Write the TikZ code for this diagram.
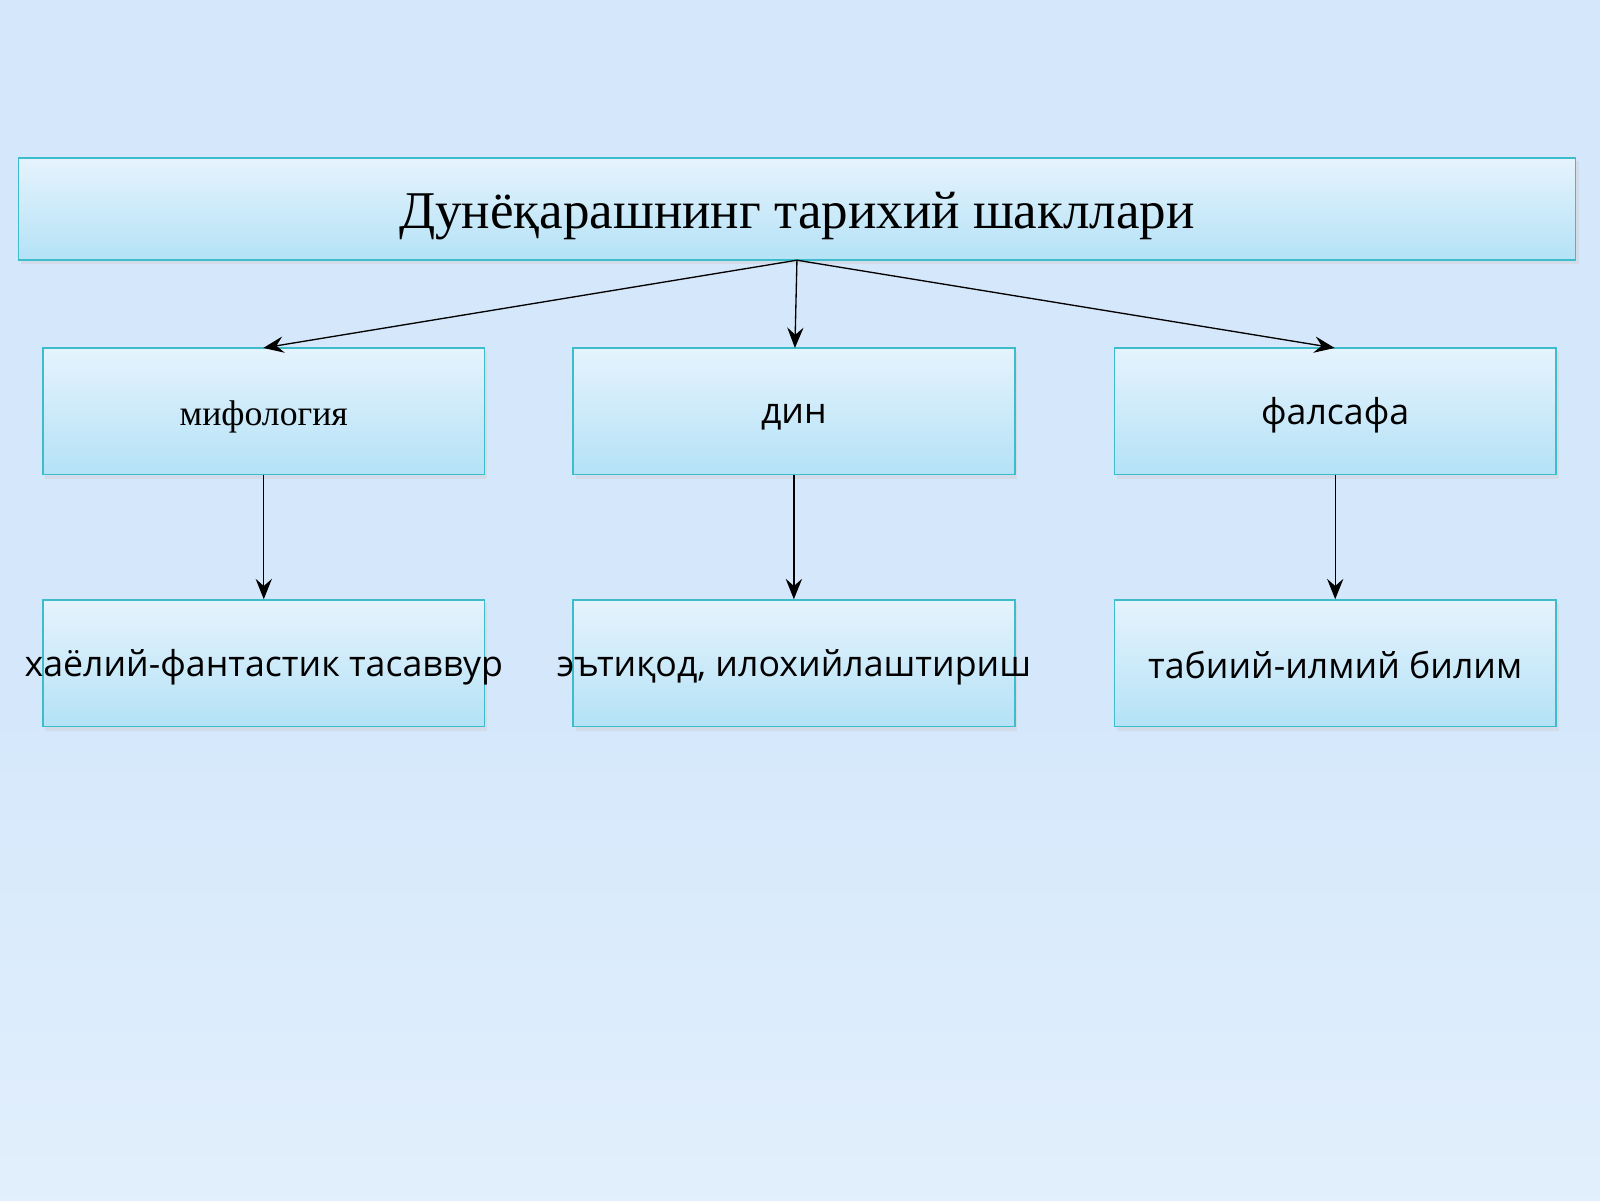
\documentclass[tikz,border=0pt]{standalone}
\usepackage{fontspec}
\setmainfont{Liberation Serif}
\newfontfamily\osans{Open Sans}
\usetikzlibrary{arrows.meta}
\definecolor{bgc}{HTML}{D5E8FB}
\definecolor{bord}{HTML}{3DBCCB}
\definecolor{boxtop}{HTML}{E6F3FD}
\definecolor{boxbot}{HTML}{B4E2F6}
\begin{document}
\begin{tikzpicture}[x=1pt,y=-1pt,
  box/.style={draw=bord,line width=1.5pt,top color=boxtop,bottom color=boxbot,inner sep=0pt},
  arr/.style={-{Stealth[length=20pt,width=16pt,inset=7pt]},line width=1.3pt,black},
  txt/.style={font=\osans\fontsize{35}{40}\selectfont}]
\fill[bgc] (0,0) rectangle (1568,1176);
\shade[top color=bgc,bottom color=bgc!70!white,middle color=bgc!85!white] (0,700) rectangle (1568,1176);
\fill[gray!40,opacity=0.4] (21,158) rectangle (1547,259);
\node[box,minimum width=1526pt,minimum height=100pt] (t) at (781,205) {};
\node[font=\fontsize{52}{60}\selectfont] at (781,212) {Дунёқарашнинг тарихий шакллари};
\foreach \n/\x in {a/258.5,b/778,c/1308.5}{
  \fill[gray!40,opacity=0.4] (\x-214,344) rectangle (\x+219,469);
  \fill[gray!40,opacity=0.4] (\x-214,591) rectangle (\x+219,716);
  \node[box,minimum width=433pt,minimum height=124pt] (\n1) at (\x,403) {};
  \node[box,minimum width=433pt,minimum height=124pt] (\n2) at (\x,650) {};
}
\node[font=\fontsize{35}{40}\selectfont] at (258.5,409) {мифология};
\node[txt] at (778,409) {дин};
\node[txt] at (1308.5,407) {фалсафа};
\node[txt] at (258.5,654) {хаёлий-фантастик тасаввур};
\node[txt] at (778,654) {эътиқод, илохийлаштириш};
\node[txt] at (1308.5,652) {табиий-илмий билим};
\coordinate (o) at (781,255);
\coordinate (ta) at (258,341);
\coordinate (tb) at (779,341);
\coordinate (tc) at (1308,341);
\draw[arr] (o) -- (ta);
\draw[arr] (o) -- (tb);
\draw[arr] (o) -- (tc);
\draw[arr] (a1.south) -- (a2.north);
\draw[arr] (b1.south) -- (b2.north);
\draw[arr] (c1.south) -- (c2.north);
\end{tikzpicture}
\end{document}
